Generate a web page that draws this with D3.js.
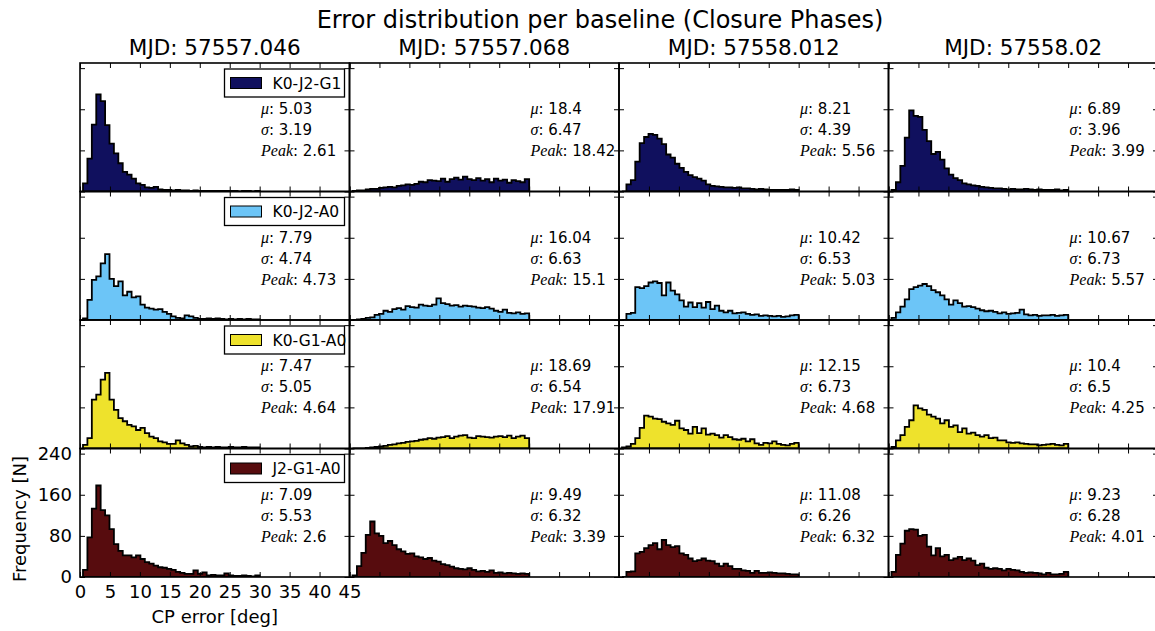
<!DOCTYPE html>
<html>
<head>
<meta charset="utf-8">
<script src="https://cdn.jsdelivr.net/npm/d3@7"></script>
<style>
  body { margin: 0; background: #fff; }
  text { font-family: "DejaVu Sans", sans-serif; fill: #000; }
</style>
</head>
<body>
<svg id="chart" width="1155" height="631"></svg>
<script>
// Dates (columns) and baselines (rows)
const dates = ['MJD: 57557.046', 'MJD: 57557.068', 'MJD: 57558.012', 'MJD: 57558.02']
const baselines = ['K0-J2-G1', 'K0-J2-A0', 'K0-G1-A0', 'J2-G1-A0']
const colors = ['#10105e', '#6cc5f7', '#eee22c', '#570c0e']

// Histogram bins: 40 bins from 0.5 to 30 deg
const binStart = 0.5
const binEnd = 30
const nBins = 40

// Counts per bin, one list per date, for each baseline
const countsK0J2G1 = [
  [16,64,130,189,176,129,93,74,55,38,33,25,16,13,8,7,9,4,3,3,2,3,2,2,1,2,1,1,1,1,1,1,1,1,1,0,1,1,0,1],
  [1,2,2,4,5,5,7,8,9,8,11,12,14,13,15,19,18,22,21,20,25,19,24,27,23,29,24,22,26,21,24,18,25,21,23,17,22,20,18,24],
  [0,14,22,58,94,106,112,110,103,92,72,66,54,46,38,32,28,25,21,14,11,10,9,8,8,7,8,6,6,5,4,5,4,3,3,3,3,3,4,3],
  [3,18,50,105,158,147,145,120,98,73,77,62,45,33,26,22,16,14,12,11,9,8,7,6,6,5,4,5,4,4,5,4,3,4,3,3,3,4,2,3]
]
const countsK0J2A0 = [
  [3,39,78,85,110,128,80,66,75,48,55,44,46,30,24,22,20,21,16,12,7,4,3,9,7,4,2,2,3,2,3,2,1,2,1,2,1,2,1,1],
  [0,1,2,4,5,10,12,18,16,21,23,20,27,25,24,30,28,27,30,42,33,31,28,29,26,28,27,26,24,23,25,22,18,16,20,14,13,15,12,13],
  [0,12,14,64,62,66,73,75,72,48,73,57,50,38,26,34,25,33,24,35,21,28,18,15,18,13,14,15,12,10,11,8,9,8,7,8,6,7,9,10],
  [4,15,26,40,60,64,67,70,66,58,54,48,40,30,38,33,26,27,25,22,19,17,18,16,13,15,12,13,14,20,11,9,10,8,9,9,10,8,9,10]
]
const countsK0G1A0 = [
  [7,20,95,105,134,147,95,75,59,53,46,43,36,40,30,23,20,14,12,9,9,16,10,7,4,5,3,2,3,2,3,2,2,3,2,2,3,2,2,2],
  [0,0,0,1,2,3,4,5,7,8,10,11,13,14,15,17,18,20,19,21,22,24,20,23,25,26,21,20,24,23,22,21,23,24,22,25,20,23,25,20],
  [2,4,9,20,40,64,62,58,57,52,49,46,54,39,36,29,42,30,39,27,29,26,21,26,22,18,17,19,14,18,10,7,11,10,14,9,7,6,9,11],
  [3,16,26,42,55,84,78,75,66,62,58,49,55,42,45,32,39,29,31,26,23,26,20,21,16,16,12,11,12,10,9,8,8,6,7,8,9,7,6,9]
]
const countsJ2G1A0 = [
  [14,77,133,178,130,120,93,64,51,42,42,38,42,35,29,26,22,19,18,16,14,10,8,6,6,13,6,9,3,4,3,3,7,3,2,2,3,2,1,3],
  [3,21,47,82,108,85,80,66,70,62,54,50,45,46,40,38,35,37,32,30,25,23,20,17,16,15,17,14,11,12,10,13,8,9,7,8,7,6,7,6],
  [0,10,11,46,49,56,62,66,54,72,62,58,60,46,43,36,31,33,36,32,31,26,21,26,21,16,16,13,12,8,12,8,8,9,8,7,7,6,5,5],
  [10,43,65,90,93,92,80,82,59,42,56,40,43,33,36,39,33,36,32,23,26,18,16,17,16,13,16,14,13,10,8,9,8,7,5,8,5,5,6,10]
]
const allCounts = [countsK0J2G1, countsK0J2A0, countsK0G1A0, countsJ2G1A0]

// Statistics printed in each panel
const muValues = [
  ['5.03', '18.4', '8.21', '6.89'],
  ['7.79', '16.04', '10.42', '10.67'],
  ['7.47', '18.69', '12.15', '10.4'],
  ['7.09', '9.49', '11.08', '9.23']
]
const sigmaValues = [
  ['3.19', '6.47', '4.39', '3.96'],
  ['4.74', '6.63', '6.53', '6.73'],
  ['5.05', '6.54', '6.73', '6.5'],
  ['5.53', '6.32', '6.26', '6.28']
]
const peakValues = [
  ['2.61', '18.42', '5.56', '3.99'],
  ['4.73', '15.1', '5.03', '5.57'],
  ['4.64', '17.91', '4.68', '4.25'],
  ['2.6', '3.39', '6.32', '4.01']
]

// Axis ticks
const xTicks = [0, 5, 10, 15, 20, 25, 30, 35, 40, 45]
const yTicks = [0, 80, 160, 240]

// Layout
const gridLeft = 80
const gridTop = 63
const panelW = 269.5
const panelH = 128.5

const svg = d3.select('#chart')

const xScale = d3.scaleLinear().domain([0, 45]).range([0, panelW])
const yScale = d3.scaleLinear().domain([0, 250]).range([panelH, 0])

const binWidth = (binEnd - binStart) / nBins
const edges = d3.range(nBins + 1).map(i => binStart + i * binWidth)

const area = d3.area()
    .curve(d3.curveStepAfter)
    .x(d => xScale(d[0]))
    .y0(yScale(0))
    .y1(d => yScale(d[1]))

// Titles
svg.append('text')
    .attr('x', 600)
    .attr('y', 28)
    .attr('text-anchor', 'middle')
    .style('font-size', '24px')
    .text('Error distribution per baseline (Closure Phases)')

dates.forEach((d, j) => {
    svg.append('text')
        .attr('x', gridLeft + j * panelW + panelW / 2)
        .attr('y', 55)
        .attr('text-anchor', 'middle')
        .style('font-size', '21.5px')
        .text(d)
})

// Panels
baselines.forEach((name, i) => {
    dates.forEach((_, j) => {
        const g = svg.append('g')
            .attr('transform', 'translate(' + (gridLeft + j * panelW) + ',' + (gridTop + i * panelH) + ')')

        const clipId = 'clip-' + i + '-' + j
        g.append('clipPath').attr('id', clipId)
            .append('rect').attr('width', panelW).attr('height', panelH)

        // Histogram as stepfilled
        const counts = allCounts[i][j]
        const pts = counts.map((c, k) => [edges[k], c])
        pts.push([edges[nBins], counts[nBins - 1]])

        g.append('path')
            .datum(pts)
            .attr('clip-path', 'url(#' + clipId + ')')
            .attr('d', area)
            .style('fill', colors[i])
            .style('stroke', '#000')
            .style('stroke-width', 1.8)
            .style('stroke-linejoin', 'miter')

        const isBottomLeft = (i === baselines.length - 1 && j === 0)

        // Ticks pointing inward on all four sides
        const xBottom = d3.axisBottom(xScale).tickValues(xTicks).tickSizeInner(-5).tickSizeOuter(0).tickPadding(8)
            .tickFormat(isBottomLeft ? d3.format('d') : () => '')
        const xTop = d3.axisTop(xScale).tickValues(xTicks).tickSizeInner(-5).tickSizeOuter(0).tickFormat(() => '')
        const yLeft = d3.axisLeft(yScale).tickValues(yTicks).tickSizeInner(-5).tickSizeOuter(0).tickPadding(8)
            .tickFormat(isBottomLeft ? d3.format('d') : () => '')
        const yRight = d3.axisRight(yScale).tickValues(yTicks).tickSizeInner(-5).tickSizeOuter(0).tickFormat(() => '')

        const axes = [
            g.append('g').attr('transform', 'translate(0,' + panelH + ')').call(xBottom),
            g.append('g').call(xTop),
            g.append('g').call(yLeft),
            g.append('g').attr('transform', 'translate(' + panelW + ',0)').call(yRight)
        ]
        axes.forEach(a => {
            a.select('.domain').remove()
            a.selectAll('.tick line').style('stroke', '#000').style('stroke-width', 1)
            a.selectAll('.tick text').style('font-size', '18px').style('font-family', '"DejaVu Sans", sans-serif').style('fill', '#000')
        })

        // Frame
        g.append('rect')
            .attr('width', panelW)
            .attr('height', panelH)
            .style('fill', 'none')
            .style('stroke', '#000')
            .style('stroke-width', 1.6)

        // Legend only in the first column
        if (j === 0) {
            const lg = g.append('g').attr('transform', 'translate(' + (panelW - 125) + ',6)')
            lg.append('rect')
                .attr('width', 120)
                .attr('height', 28)
                .style('fill', '#fff')
                .style('stroke', '#000')
                .style('stroke-width', 1.3)
            lg.append('rect')
                .attr('x', 6)
                .attr('y', 8.5)
                .attr('width', 31)
                .attr('height', 11)
                .style('fill', colors[i])
                .style('stroke', '#000')
                .style('stroke-width', 1)
            lg.append('text')
                .attr('x', 48)
                .attr('y', 19.5)
                .style('font-size', '15.5px')
                .text(name)
        }

        // Statistics
        const stats = [
            ['\u03bc', muValues[i][j]],
            ['\u03c3', sigmaValues[i][j]],
            ['Peak', peakValues[i][j]]
        ]
        stats.forEach((s, k) => {
            const t = g.append('text')
                .attr('x', 181)
                .attr('y', 51 + k * 21)
                .style('font-size', '15px')
            t.append('tspan')
                .style('font-family', '"Liberation Serif", "DejaVu Serif", serif')
                .style('font-style', 'italic')
                .style('font-size', '16px')
                .text(s[0])
            t.append('tspan').text(': ' + s[1])
        })
    })
})

// Axis labels
svg.append('text')
    .attr('x', gridLeft + panelW / 2)
    .attr('y', 623)
    .attr('text-anchor', 'middle')
    .style('font-size', '18px')
    .text('CP error [deg]')

svg.append('text')
    .attr('transform', 'translate(26,519) rotate(-90)')
    .attr('text-anchor', 'middle')
    .style('font-size', '18px')
    .text('Frequency [N]')
</script>
</body>
</html>
